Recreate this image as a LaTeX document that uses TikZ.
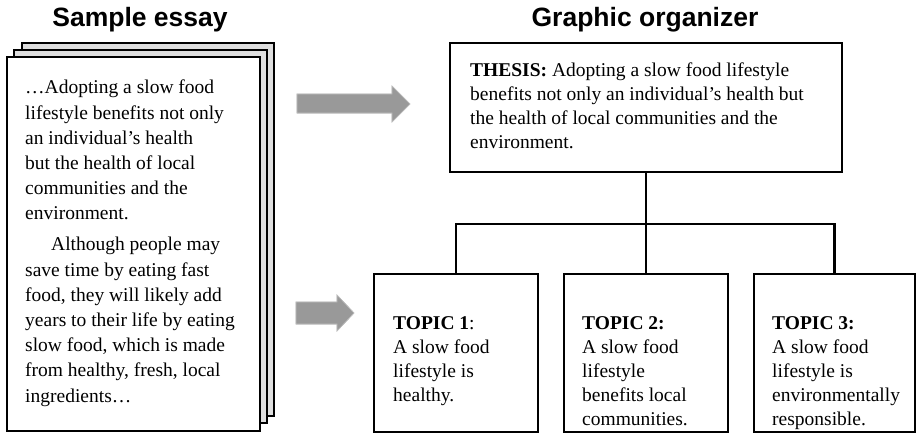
\documentclass[tikz,border=0pt]{standalone}
\usepackage{fontspec}
\setmainfont{Liberation Serif}
\newfontfamily\titlefont{Liberation Sans}
\begin{document}
\begin{tikzpicture}[x=1pt,y=-1pt,
  page/.style={draw=black,line width=2.5pt},
  blockarrow/.style={fill=black!40,draw=black!25,line width=0.6pt},
  box/.style={draw=black,line width=2.5pt,fill=white,outer sep=0pt,inner sep=0pt,anchor=north west},
  link/.style={draw=black,line width=2.5pt},
  title/.style={font=\titlefont\bfseries\fontsize{26.5}{30}\selectfont,anchor=base},
  bodytext/.style={align=left,anchor=base west,inner sep=0pt},
]
\useasboundingbox (0,0) rectangle (917,436);
% titles
\node[title] (t1) at (140,27) {Sample essay};
\node[title] (t2) at (645,27) {Graphic organizer};
% stacked pages
\draw[page,fill=black!13] (22,43) rectangle (274,416);
\draw[page,fill=black!13] (14,50) rectangle (267,423);
\draw[page,fill=white] (7,57) rectangle (260,431);
% (anchor base = baseline of the last line)
\node[bodytext,font=\fontsize{19.5}{25.2}\selectfont] (essay) at (25,402) {%
…Adopting a slow food\\
lifestyle benefits not only\\
an individual’s health\\
but the health of local\\
communities and the\\
environment.\\[5.8pt]
\hspace*{26pt}Although people may\\
save time by eating fast\\
food, they will likely add\\
years to their life by eating\\
slow food, which is made\\
from healthy, fresh, local\\
ingredients…};
% block arrows
\fill[blockarrow] (297,94) -- (392,94) -- (392,86) -- (410,104) -- (392,122) -- (392,113) -- (297,113) -- cycle;
\fill[blockarrow] (296,302) -- (337,302) -- (337,295) -- (354,313) -- (337,331) -- (337,324) -- (296,324) -- cycle;
\draw[blockarrow] (297,94) -- (392,94) -- (392,86) -- (410,104) -- (392,122) -- (392,113) -- (297,113) -- cycle;
\draw[blockarrow] (296,302) -- (337,302) -- (337,295) -- (354,313) -- (337,331) -- (337,324) -- (296,324) -- cycle;
% connectors (drawn first, boxes cover their ends)
\coordinate (bary) at (0,224);
\coordinate (bar) at (646,224);
\node[box,minimum width=392pt,minimum height=129pt] (thesis) at (450,43) {};
\node[box,minimum width=164pt,minimum height=158pt] (topic1) at (374,274) {};
\node[box,minimum width=164pt,minimum height=158pt] (topic2) at (564,274) {};
\node[box,minimum width=161pt,minimum height=158pt] (topic3) at (754,274) {};
\draw[link] (thesis.south) -- (bar);
\draw[link] (topic1.north) |- (bar);
\draw[link] (topic3.north) |- (bar);
\draw[link] (bar) -- (topic2.north);
% texts
\node[bodytext,font=\fontsize{19.5}{23.7}\selectfont] (thesistext) at (470,148) {%
\textbf{THESIS:} Adopting a slow food lifestyle\\
benefits not only an individual’s health but\\
the health of local communities and the\\
environment.};
\node[bodytext,font=\fontsize{19.5}{24.2}\selectfont] (topic1text) at (393,401.6) {%
\textbf{TOPIC 1}:\\
A slow food\\
lifestyle is\\
healthy.};
\node[bodytext,font=\fontsize{19.5}{24.2}\selectfont] (topic2text) at (582,425.8) {%
\textbf{TOPIC 2:}\\
A slow food\\
lifestyle\\
benefits local\\
communities.};
\node[bodytext,font=\fontsize{19.5}{24.2}\selectfont] (topic3text) at (772,425.8) {%
\textbf{TOPIC 3:}\\
A slow food\\
lifestyle is\\
environmentally\\
responsible.};
\end{tikzpicture}
\end{document}
